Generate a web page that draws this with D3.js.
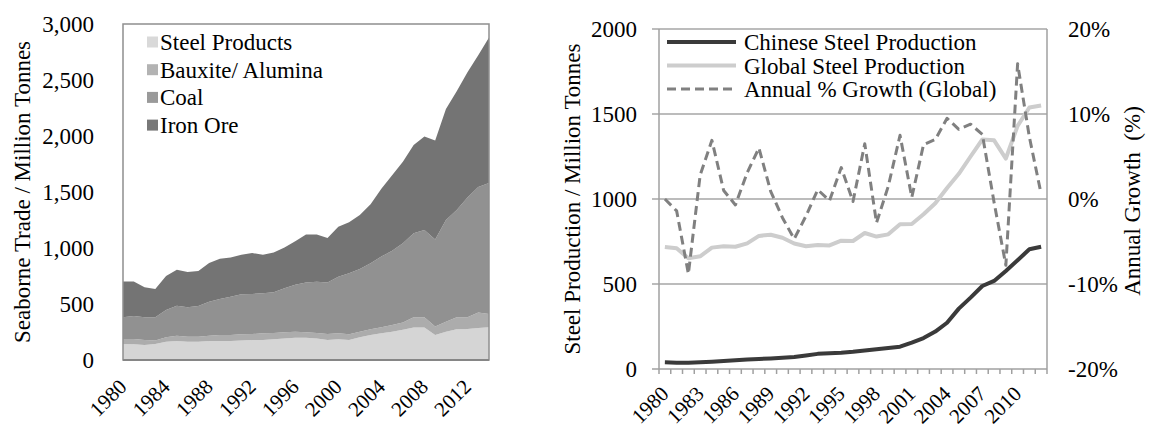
<!DOCTYPE html>
<html>
<head>
<meta charset="utf-8">
<script src="https://cdn.jsdelivr.net/npm/d3@7"></script>
<style>
  body { margin: 0; background: #fff; }
  svg text { font-family: "Liberation Serif", "Times New Roman", Times, serif; }
</style>
</head>
<body>
<svg id="chart" width="1151" height="430"></svg>
<script>
// left chart: seaborne trade, million tonnes (stacked)
const tradeYears = [1980,1981,1982,1983,1984,1985,1986,1987,1988,1989,1990,1991,1992,1993,1994,1995,1996,1997,1998,1999,2000,2001,2002,2003,2004,2005,2006,2007,2008,2009,2010,2011,2012,2013,2014];
const steelProducts = [143,140,134,143,164,170,164,164,170,170,170,173,179,179,185,193,199,199,193,179,185,179,203,223,238,253,270,290,290,223,253,274,277,285,292];
const bauxiteAlumina = [44,47,45,30,39,47,44,44,47,53,53,56,53,59,56,54,54,48,48,53,53,50,50,51,54,59,65,91,91,75,89,107,104,138,119];
const coal = [194,206,202,208,243,268,262,274,304,322,342,357,358,357,364,393,419,446,458,461,506,545,559,589,631,664,707,750,780,779,908,959,1069,1122,1169];
const ironOre = [319,307,269,254,304,320,315,313,344,360,350,354,365,345,355,365,388,427,421,397,446,456,483,527,607,674,728,789,834,883,990,1060,1120,1175,1300];
const tradeSeries = ["Steel Products", "Bauxite/ Alumina", "Coal", "Iron Ore"];
const tradeTicks = [0, 500, 1000, 1500, 2000, 2500, 3000];
const tradeYearLabels = [1980,1984,1988,1992,1996,2000,2004,2008,2012];

// right chart: steel production (million tonnes) and global growth (%)
const steelYears = [1980,1981,1982,1983,1984,1985,1986,1987,1988,1989,1990,1991,1992,1993,1994,1995,1996,1997,1998,1999,2000,2001,2002,2003,2004,2005,2006,2007,2008,2009,2010,2011,2012];
const chineseSteel = [39,37,37,40,43,47,52,56,59,62,66,71,80,89,93,95,101,109,116,124,131,155,182,220,272,355,420,488,518,577,640,704,719];
const globalSteel = [718,710,651,663,714,722,719,739,783,790,772,738,722,730,727,755,753,800,779,792,852,853,910,975,1065,1148,1250,1350,1345,1238,1430,1538,1550];
const globalGrowth = [0,-1.4,-8.8,2.8,6.9,1.0,-0.7,3.1,6.0,0.9,-2.2,-4.7,-2.0,1.1,-0.2,3.7,-0.3,6.5,-2.8,1.5,7.5,0.2,6.4,7.0,9.5,8.2,8.8,7.6,-0.4,-7.8,15.9,7.3,0.6];
const steelSeries = ["Chinese Steel Production", "Global Steel Production", "Annual % Growth (Global)"];
const productionTicks = [0, 500, 1000, 1500, 2000];
const growthTicks = [-20, -10, 0, 10, 20];
const steelYearLabels = [1980,1983,1986,1989,1992,1995,1998,2001,2004,2007,2010];

const svg = d3.select("#chart");
const fontSize = 23;
const yearFontSize = 21;

function cleanAxis(sel) {
  sel.attr("font-family", null).attr("font-size", null);
  sel.select(".domain").remove();
  sel.selectAll("text").attr("font-size", fontSize).attr("fill", "#000");
}

function drawTrade() {
  const box = { left: 123, right: 489, top: 24, bottom: 360 };
  const colors = ["#d5d5d5", "#acacac", "#919191", "#747474"];
  const legendColors = ["#d9d9d9", "#b3b3b3", "#9a9a9a", "#787878"];

  const rows = tradeYears.map((yr, i) => ({
    year: yr,
    "Steel Products": steelProducts[i],
    "Bauxite/ Alumina": bauxiteAlumina[i],
    "Coal": coal[i],
    "Iron Ore": ironOre[i]
  }));

  const x = d3.scalePoint().domain(tradeYears).range([box.left, box.right]);
  const y = d3.scaleLinear().domain([0, 3000]).range([box.bottom, box.top]);

  const stacked = d3.stack().keys(tradeSeries)(rows);
  const area = d3.area()
    .x(d => x(d.data.year))
    .y0(d => y(d[0]))
    .y1(d => y(d[1]));

  const g = svg.append("g");
  g.selectAll("path.layer")
    .data(stacked)
    .join("path")
    .attr("class", "layer")
    .attr("fill", (d, i) => colors[i])
    .attr("d", area);

  g.append("rect")
    .attr("x", box.left).attr("y", box.top)
    .attr("width", box.right - box.left).attr("height", box.bottom - box.top)
    .attr("fill", "none").attr("stroke", "#8f8f8f").attr("stroke-width", 1.5);
  g.append("line")
    .attr("x1", box.left).attr("x2", box.right)
    .attr("y1", box.bottom).attr("y2", box.bottom)
    .attr("stroke", "#868686").attr("stroke-width", 2);

  g.append("g")
    .attr("transform", `translate(${box.left},0)`)
    .call(d3.axisLeft(y).tickValues(tradeTicks).tickFormat(d3.format(",")).tickSize(0).tickPadding(29))
    .call(cleanAxis);

  g.selectAll("text.xlab")
    .data(tradeYearLabels)
    .join("text")
    .attr("class", "xlab")
    .attr("text-anchor", "end")
    .attr("font-size", yearFontSize)
    .attr("transform", d => `translate(${x(d) + 5},${box.bottom + 28}) rotate(-45)`)
    .text(d => d);

  g.append("text")
    .attr("transform", `translate(30,${(box.top + box.bottom) / 2}) rotate(-90)`)
    .attr("text-anchor", "middle")
    .attr("font-size", fontSize)
    .text("Seaborne Trade / Million Tonnes");

  const legend = g.selectAll("g.leg")
    .data(tradeSeries)
    .join("g")
    .attr("class", "leg")
    .attr("transform", (d, i) => `translate(147,${42 + i * 27.7})`);
  legend.append("rect")
    .attr("x", 0).attr("y", -5.5).attr("width", 11).attr("height", 11)
    .attr("fill", (d, i) => legendColors[i]);
  legend.append("text")
    .attr("x", 13).attr("y", 8)
    .attr("font-size", fontSize)
    .text(d => d);
}

function drawSteel() {
  const box = { left: 659, right: 1047, top: 29, bottom: 369 };
  const x = d3.scaleBand().domain(steelYears).range([box.left, box.right]);
  const cx = d => x(d) + x.bandwidth() / 2;
  const yL = d3.scaleLinear().domain([0, 2000]).range([box.bottom, box.top]);
  const yR = d3.scaleLinear().domain([-20, 20]).range([box.bottom, box.top]);

  const g = svg.append("g");

  // gridlines + outer ticks on the left
  g.selectAll("line.grid")
    .data(productionTicks.filter(d => d > 0))
    .join("line")
    .attr("class", "grid")
    .attr("x1", box.left - 7).attr("x2", box.right)
    .attr("y1", d => yL(d)).attr("y2", d => yL(d))
    .attr("stroke", "#a6a6a6").attr("stroke-width", 1.5);

  g.append("line")
    .attr("x1", box.left).attr("x2", box.left)
    .attr("y1", box.top).attr("y2", box.bottom)
    .attr("stroke", "#a0a0a0").attr("stroke-width", 1.5);
  g.append("line")
    .attr("x1", box.right).attr("x2", box.right)
    .attr("y1", box.top).attr("y2", box.bottom + 5)
    .attr("stroke", "#a0a0a0").attr("stroke-width", 1.5);
  g.append("line")
    .attr("x1", box.left - 7).attr("x2", box.right)
    .attr("y1", box.bottom).attr("y2", box.bottom)
    .attr("stroke", "#a0a0a0").attr("stroke-width", 1.5);

  // year ticks on band edges
  g.selectAll("line.xtick")
    .data(steelYears)
    .join("line")
    .attr("class", "xtick")
    .attr("x1", d => x(d)).attr("x2", d => x(d))
    .attr("y1", box.bottom).attr("y2", box.bottom + 5)
    .attr("stroke", "#a0a0a0").attr("stroke-width", 1.5);

  g.append("g")
    .attr("transform", `translate(${box.left},0)`)
    .call(d3.axisLeft(yL).tickValues(productionTicks).tickFormat(d3.format("d")).tickSize(0).tickPadding(22))
    .call(cleanAxis);

  g.append("g")
    .attr("transform", `translate(${box.right},0)`)
    .call(d3.axisRight(yR).tickValues(growthTicks).tickFormat(d => d + "%").tickSize(0).tickPadding(21))
    .call(cleanAxis);

  g.selectAll("text.xlab")
    .data(steelYearLabels)
    .join("text")
    .attr("class", "xlab")
    .attr("text-anchor", "end")
    .attr("font-size", yearFontSize)
    .attr("transform", d => `translate(${cx(d) + 5},${box.bottom + 26}) rotate(-45)`)
    .text(d => d);

  const lineL = d3.line().x((d, i) => cx(steelYears[i])).y(d => yL(d));
  const lineR = d3.line().x((d, i) => cx(steelYears[i])).y(d => yR(d));

  g.append("path").attr("d", lineL(globalSteel))
    .attr("fill", "none").attr("stroke", "#cdcdcd").attr("stroke-width", 4).attr("stroke-linejoin", "round");
  g.append("path").attr("d", lineL(chineseSteel))
    .attr("fill", "none").attr("stroke", "#3a3a3a").attr("stroke-width", 4).attr("stroke-linejoin", "round");
  g.append("path").attr("d", lineR(globalGrowth))
    .attr("fill", "none").attr("stroke", "#808080").attr("stroke-width", 3)
    .attr("stroke-dasharray", "9,5").attr("stroke-linejoin", "round");

  g.append("text")
    .attr("transform", `translate(580,${(box.top + box.bottom) / 2}) rotate(-90)`)
    .attr("text-anchor", "middle")
    .attr("font-size", fontSize)
    .text("Steel Production / Million Tonnes");

  g.append("text")
    .attr("transform", `translate(1140,${(box.top + box.bottom) / 2 + 2}) rotate(-90)`)
    .attr("text-anchor", "middle")
    .attr("font-size", fontSize)
    .style("white-space", "pre")
    .text("Annual Growth  (%)");

  const styles = [
    { color: "#3a3a3a", width: 4, dash: null },
    { color: "#cdcdcd", width: 4, dash: null },
    { color: "#808080", width: 3, dash: "9,5" }
  ];
  const legend = g.selectAll("g.leg")
    .data(steelSeries)
    .join("g")
    .attr("class", "leg")
    .attr("transform", (d, i) => `translate(667,${42 + i * 23.5})`);
  legend.append("line")
    .attr("x1", 0).attr("x2", 69).attr("y1", 0).attr("y2", 0)
    .attr("stroke", (d, i) => styles[i].color)
    .attr("stroke-width", (d, i) => styles[i].width)
    .attr("stroke-dasharray", (d, i) => styles[i].dash);
  legend.append("text")
    .attr("x", 77).attr("y", 8)
    .attr("font-size", fontSize)
    .text(d => d);
}

drawTrade();
drawSteel();
</script>
</body>
</html>
